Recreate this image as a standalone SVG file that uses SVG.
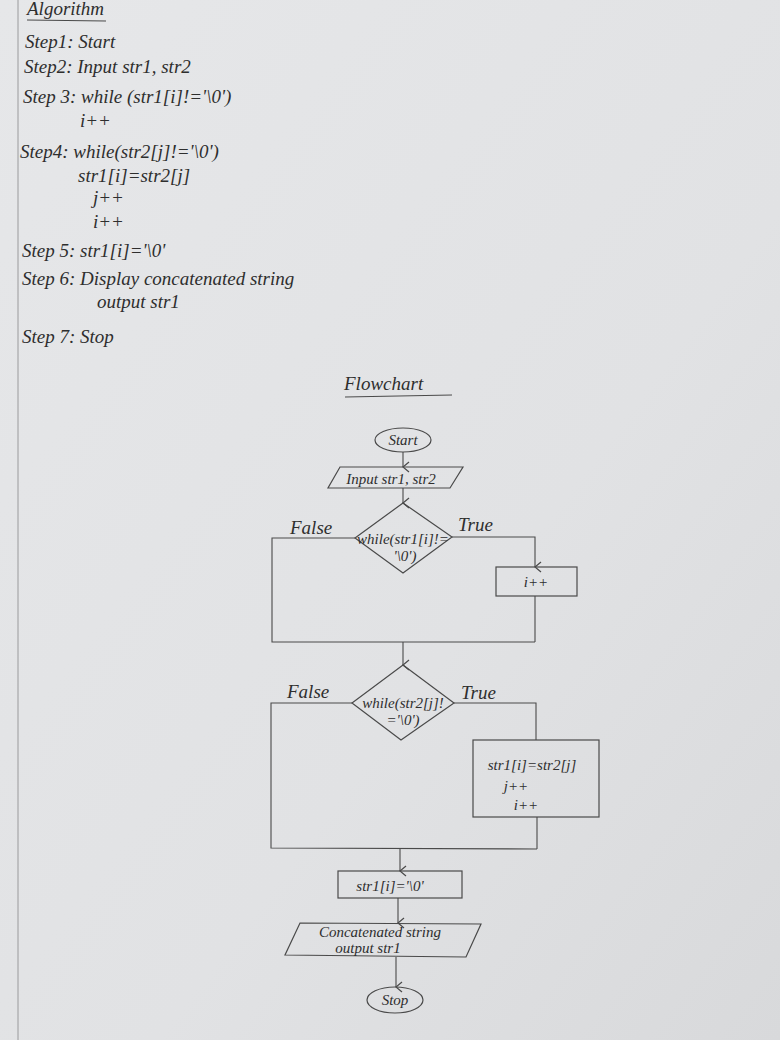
<svg xmlns="http://www.w3.org/2000/svg" width="780" height="1040" viewBox="0 0 780 1040">
<defs>
<linearGradient id="paper" x1="0" y1="0" x2="1" y2="1">
<stop offset="0" stop-color="#e6e7e9"/>
<stop offset="0.6" stop-color="#e1e2e4"/>
<stop offset="1" stop-color="#d8d9db"/>
</linearGradient>
<marker id="arr" markerWidth="12" markerHeight="12" refX="6" refY="10" orient="auto" markerUnits="userSpaceOnUse" viewBox="0 0 12 12">
<path d="M1,4 L6,10 L11,4" fill="none" stroke="#4a4a4a" stroke-width="1.2"/>
</marker>
</defs>
<style>
.t{font-family:"Liberation Serif",serif;font-style:italic;fill:#2e2e2e;font-size:19px}
.s{font-family:"Liberation Serif",serif;font-style:italic;fill:#2e2e2e;font-size:15px}
.sh{fill:none;stroke:#4a4a4a;stroke-width:1.2}
.ln{fill:none;stroke:#4a4a4a;stroke-width:1.1}
</style>
<rect width="780" height="1040" fill="url(#paper)"/>
<line x1="18" y1="0" x2="18" y2="1040" stroke="#9a9a9c" stroke-width="1"/>

<g id="algorithm">
<text class="t" x="27" y="15" font-size="21">Algorithm</text>
<line x1="27" y1="20" x2="106" y2="21" class="ln"/>
<text class="t" x="25" y="48">Step1: Start</text>
<text class="t" x="24" y="73">Step2: Input str1, str2</text>
<text class="t" x="23" y="103">Step 3: while (str1[i]!='\0')</text>
<text class="t" x="80" y="127" font-size="15">i++</text>
<text class="t" x="20" y="158">Step4: while(str2[j]!='\0')</text>
<text class="t" x="78" y="182">str1[i]=str2[j]</text>
<text class="t" x="93" y="204" font-size="16">j++</text>
<text class="t" x="93" y="228" font-size="14">i++</text>
<text class="t" x="22" y="257">Step 5: str1[i]='\0'</text>
<text class="t" x="22" y="285" font-size="20">Step 6: Display concatenated string</text>
<text class="t" x="97" y="308">output str1</text>
<text class="t" x="22" y="343">Step 7: Stop</text>
</g>

<g id="title">
<text class="t" x="344" y="390" font-size="25">Flowchart</text>
<line x1="345" y1="397" x2="452" y2="395" class="ln"/>
</g>

<g id="connectors">
<line x1="403" y1="452" x2="403" y2="467" class="ln" marker-end="url(#arr)"/>
<line x1="403" y1="488" x2="403" y2="503" class="ln" marker-end="url(#arr)"/>
<polyline points="355,538 272,538 272,642 535,642" class="ln"/>
<polyline points="452,537 535,537 535,567" class="ln" marker-end="url(#arr)"/>
<line x1="535" y1="596" x2="535" y2="642" class="ln"/>
<line x1="403" y1="642" x2="403" y2="665" class="ln" marker-end="url(#arr)"/>
<polyline points="352,703 271,703 271,848 537,849" class="ln"/>
<polyline points="454,703 536,703 536,740" class="ln"/>
<line x1="537" y1="817" x2="537" y2="849" class="ln"/>
<line x1="400" y1="849" x2="400" y2="871" class="ln" marker-end="url(#arr)"/>
<line x1="398" y1="898" x2="398" y2="923" class="ln" marker-end="url(#arr)"/>
<line x1="396" y1="957" x2="396" y2="987" class="ln" marker-end="url(#arr)"/>
<text class="t" x="290" y="534" font-size="21">False</text>
<text class="t" x="458" y="531" font-size="21">True</text>
<text class="t" x="287" y="698" font-size="18">False</text>
<text class="t" x="461" y="699" font-size="19">True</text>
</g>

<g id="start">
<ellipse cx="403" cy="440" rx="28" ry="12" class="sh"/>
<text class="s" x="403" y="445" text-anchor="middle">Start</text>
</g>

<g id="input">
<polygon points="340,467 463,467 450,488 328,488" class="sh"/>
<text class="s" x="391" y="484" text-anchor="middle" font-size="17">Input str1, str2</text>
</g>

<g id="decision1">
<polygon points="403,503 452,537 403,573 355,538" class="sh"/>
<text class="s" x="403" y="544" text-anchor="middle" font-size="11">while(str1[i]!=</text>
<text class="s" x="405" y="561" text-anchor="middle" font-size="11">'\0')</text>
</g>

<g id="incr1">
<rect x="496" y="567" width="81" height="29" class="sh"/>
<text class="s" x="536" y="587" text-anchor="middle" font-size="16">i++</text>
</g>

<g id="decision2">
<polygon points="403,665 454,703 401,740 352,703" class="sh"/>
<text class="s" x="403" y="708" text-anchor="middle" font-size="11">while(str2[j]!</text>
<text class="s" x="403" y="725" text-anchor="middle" font-size="11">='\0')</text>
</g>

<g id="copy">
<rect x="473" y="740" width="126" height="77" class="sh"/>
<text class="s" x="532" y="770" text-anchor="middle" font-size="17">str1[i]=str2[j]</text>
<text class="s" x="516" y="791" text-anchor="middle" font-size="16">j++</text>
<text class="s" x="526" y="810" text-anchor="middle" font-size="15">i++</text>
</g>

<g id="terminate">
<rect x="338" y="871" width="124" height="27" class="sh"/>
<text class="s" x="390" y="891" text-anchor="middle" font-size="17">str1[i]='\0'</text>
</g>

<g id="output">
<polygon points="300,923 481,924 466,957 285,955" class="sh"/>
<text class="s" x="380" y="937" text-anchor="middle" font-size="13">Concatenated string</text>
<text class="s" x="368" y="953" text-anchor="middle" font-size="13">output str1</text>
</g>

<g id="stop">
<ellipse cx="395" cy="1000" rx="28" ry="13" class="sh"/>
<text class="s" x="395" y="1005" text-anchor="middle" font-size="16">Stop</text>
</g>
</svg>
